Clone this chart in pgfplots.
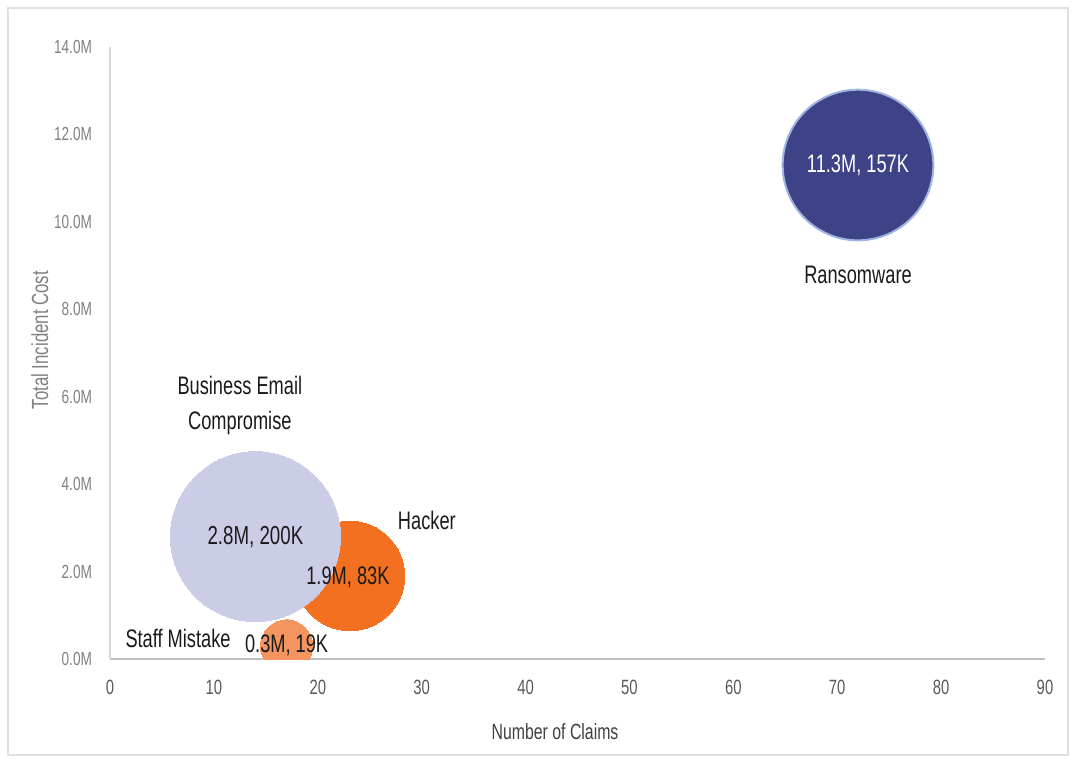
\documentclass[border=0pt]{standalone}
\usepackage{pgfplots}
\pgfplotsset{compat=1.18}
\usepackage{fontspec}
\setmainfont{Liberation Sans}[FakeStretch=0.72]
\definecolor{ransom}{HTML}{3E4287}
\definecolor{ransomedge}{HTML}{9FB4E0}
\definecolor{bec}{HTML}{CBCDE7}
\definecolor{hacker}{HTML}{F37021}
\definecolor{staff}{HTML}{F4945E}
\definecolor{ytk}{HTML}{808080}
\definecolor{xtk}{HTML}{595959}
\definecolor{lbl}{HTML}{1A1A1A}
\begin{document}
\begin{tikzpicture}
\begin{axis}[
  scale only axis,
  width=701.25pt, height=459pt,
  xmin=0, xmax=90, ymin=0, ymax=14,
  axis x line*=bottom, axis y line*=left,
  x axis line style={draw=black!25, line width=0.9pt, -},
  y axis line style={draw=black!15, line width=0.9pt, -},
  major tick length=0pt,
  xtick={0,10,20,30,40,50,60,70,80,90},
  xticklabels={0,10,20,30,40,50,60,70,80,90},
  ytick={0,2,4,6,8,10,12,14},
  yticklabels={0.0M,2.0M,4.0M,6.0M,8.0M,10.0M,12.0M,14.0M},
  /pgf/number format/assume math mode=true,
  xticklabel style={font=\fontsize{15.5}{17}\selectfont, text=xtk, yshift=-12pt},
  yticklabel style={font=\fontsize{14.2}{16}\selectfont, text=ytk, xshift=-10pt},
  xlabel={Number of Claims},
  ylabel={Total Incident Cost},
  x label style={at={(axis description cs:0.476,-0.119)}, anchor=center, font=\fontsize{16.5}{18}\selectfont, text=black!75},
  y label style={at={(axis description cs:-0.075,0.521)}, anchor=center, rotate=0, font=\fontsize{17.5}{19}\selectfont, text=ytk},
  clip marker paths=true,
]
% Hacker: 23 claims, 1.9M, 83K
\addplot[only marks, color=hacker, mark=*, mark size=41.1pt, mark options={fill=hacker, draw=hacker, line width=0pt}] coordinates {(23.1,1.9)};
% Business Email Compromise: 14 claims, 2.8M, 200K
\addplot[only marks, color=bec, mark=*, mark size=63.75pt, mark options={fill=bec, draw=bec, line width=0pt}] coordinates {(14,2.8)};
% Staff Mistake: 17 claims, 0.3M, 19K
\addplot[only marks, color=staff, mark=*, mark size=19.6pt, mark options={fill=staff, draw=staff, line width=0pt}] coordinates {(17,0.3)};
% Ransomware: 72 claims, 11.3M, 157K
\addplot[only marks, color=ransom, mark=*, mark size=56.5pt, mark options={fill=ransom, draw=ransomedge, line width=1.5pt}] coordinates {(72,11.3)};

\node[text=white, font=\fontsize{19}{20}\selectfont] at (axis cs:72,11.3) {11.3M, 157K};
\node[text=lbl, font=\fontsize{19}{20}\selectfont] at (axis cs:72,8.79) {Ransomware};
\node[text=lbl, font=\fontsize{19}{26}\selectfont, align=center] at (axis cs:12.5,5.8) {Business Email\\Compromise};
\node[text=lbl, font=\fontsize{19}{20}\selectfont] at (axis cs:30.5,3.16) {Hacker};
\node[text=lbl, font=\fontsize{19.5}{20}\selectfont] at (axis cs:14,2.8) {2.8M, 200K};
\node[text=lbl, font=\fontsize{19}{20}\selectfont] at (axis cs:22.9,1.88) {1.9M, 83K};
\node[text=lbl, font=\fontsize{19}{20}\selectfont] at (axis cs:6.55,0.48) {Staff Mistake};
\node[text=lbl, font=\fontsize{19}{20}\selectfont] at (axis cs:17,0.32) {0.3M, 19K};
\end{axis}
\draw[black!12, line width=0.8pt] ([xshift=-76.5pt,yshift=-72pt]current axis.south west) rectangle ([xshift=17.25pt,yshift=29.25pt]current axis.north east);
\path[use as bounding box] ([xshift=-82.5pt,yshift=-78pt]current axis.south west) rectangle ([xshift=22.5pt,yshift=35.25pt]current axis.north east);
\end{tikzpicture}
\end{document}
